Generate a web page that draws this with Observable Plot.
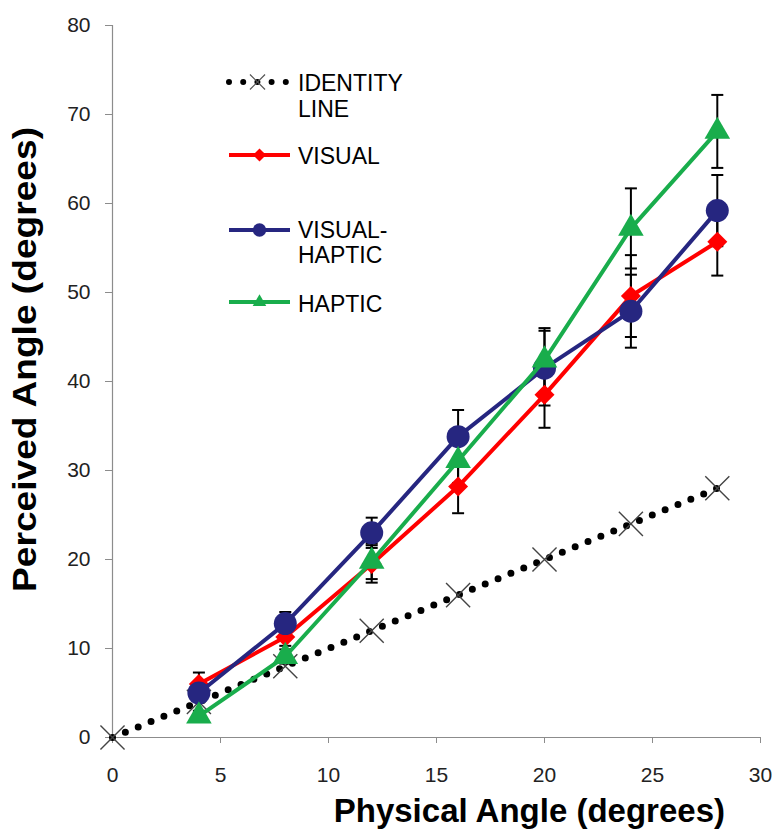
<!DOCTYPE html>
<html><head><meta charset="utf-8">
<script src="https://cdn.jsdelivr.net/npm/d3@7"></script>
<script src="https://cdn.jsdelivr.net/npm/@observablehq/plot@0.6"></script>
<style>
body{margin:0;background:#fff;font-family:"Liberation Sans",Arial,sans-serif}
#wrap{position:relative;width:773px;height:832px}
#legend{position:absolute;left:0;top:0;pointer-events:none}
</style>
</head><body><div id="wrap"></div>
<script>
// ---- data ----
const angles = [4, 8, 12, 16, 20, 24, 28];
const identityX = [0, 4, 8, 12, 16, 20, 24, 28];
const identityY = [0, 4, 8, 12, 16, 20, 24, 28];
const visual = [6.0, 11.3, 19.5, 28.2, 38.5, 49.6, 55.7];
const visualErr = [1.3, 1.0, 2.1, 3.0, 3.7, 4.6, 3.8];
const visualHaptic = [5.0, 12.8, 23.0, 33.8, 41.5, 47.9, 59.2];
const visualHapticErr = [0.8, 1.3, 1.7, 3.0, 4.2, 4.1, 4.0];
const haptic = [2.4, 9.1, 19.8, 31.1, 42.4, 57.2, 68.1];
const hapticErr = [0.6, 0.8, 2.0, 2.5, 3.6, 4.5, 4.1];
const xTicks = [0, 5, 10, 15, 20, 25, 30];
const yTicks = [0, 10, 20, 30, 40, 50, 60, 70, 80];
const seriesNames = ["VISUAL", "VISUAL-HAPTIC", "HAPTIC"];
const legendLabels = [["IDENTITY", "LINE"], ["VISUAL"], ["VISUAL-", "HAPTIC"], ["HAPTIC"]];
const xLabel = "Physical Angle (degrees)";
const yLabel = "Perceived Angle (degrees)";

// ---- styles ----
const colors = {"VISUAL": "#ff0000", "VISUAL-HAPTIC": "#262680", "HAPTIC": "#19ad4c"};
const symbols = {"VISUAL": "diamond2", "VISUAL-HAPTIC": "circle", "HAPTIC": "triangle"};
const radii = {"VISUAL": 9, "VISUAL-HAPTIC": 11.5, "HAPTIC": 9.5};

const values = {"VISUAL": visual, "VISUAL-HAPTIC": visualHaptic, "HAPTIC": haptic};
const errs = {"VISUAL": visualErr, "VISUAL-HAPTIC": visualHapticErr, "HAPTIC": hapticErr};

const identity = identityX.map((x, i) => ({x, y: identityY[i]}));
const rows = seriesNames.flatMap(s => angles.map((x, i) => ({
  series: s, x, y: values[s][i], lo: values[s][i] - errs[s][i], hi: values[s][i] + errs[s][i]
})));

const capSymbol = {draw(ctx, size) { const w = Math.sqrt(size / Math.PI); ctx.moveTo(-w, 0); ctx.lineTo(w, 0); }};

const font = "Liberation Sans, Arial, sans-serif";

const seriesMarks = seriesNames.flatMap(s => {
  const d = rows.filter(r => r.series === s);
  return [
    Plot.line(d, {x: "x", y: "y", stroke: colors[s], strokeWidth: 4, strokeLinejoin: "round"}),
    Plot.dot(d, {x: "x", y: "y", symbol: symbols[s], r: radii[s], fill: colors[s], stroke: "none"})
  ];
});

const chart = Plot.plot({
  width: 773, height: 832,
  marginLeft: 112, marginRight: 13, marginTop: 25, marginBottom: 95,
  x: {domain: [0, 30]},
  y: {domain: [0, 80]},
  style: {fontFamily: font, fontSize: "21px", background: "#fff", overflow: "visible"},
  marks: [
    Plot.ruleY([0], {stroke: "#8c8c8c", strokeWidth: 1.2}),
    Plot.ruleX([0], {stroke: "#8c8c8c", strokeWidth: 1.2}),
    Plot.axisX({ticks: xTicks, tickSize: 6, tickPadding: 24, label: null, stroke: "#8c8c8c", fill: "#222", fontSize: 21, tickFormat: d => String(d)}),
    Plot.axisY({ticks: yTicks, tickSize: 7, tickPadding: 15, label: null, stroke: "#8c8c8c", fill: "#222", fontSize: 21, tickFormat: d => String(d)}),
    // identity
    Plot.line(identity, {x: "x", y: "y", stroke: "#000", strokeWidth: 7, strokeDasharray: "0,13.9", strokeLinecap: "round"}),
    Plot.dot(identity, {x: "x", y: "y", symbol: "times", r: 11, stroke: "#444", strokeWidth: 1.4}),
    // error bars
    Plot.ruleX(rows, {x: "x", y1: "lo", y2: "hi", stroke: "#000", strokeWidth: 2}),
    Plot.dot(rows, {x: "x", y: "hi", symbol: capSymbol, r: 6, fill: "none", stroke: "#000", strokeWidth: 2}),
    Plot.dot(rows, {x: "x", y: "lo", symbol: capSymbol, r: 6, fill: "none", stroke: "#000", strokeWidth: 2}),
    ...seriesMarks
  ]
});

const wrap = document.getElementById("wrap");
wrap.appendChild(chart);

const svg = d3.select(chart);
svg.attr("font-size", 21);
svg.selectAll("g").filter(function() { return this.hasAttribute("font-size"); }).attr("font-size", 21);
svg.selectAll("text").each(function() {
  this.setAttribute("font-size", "21");
  this.style.setProperty("font-size", "21px", "important");
});

// axis titles
svg.append("text").text(xLabel)
  .attr("x", 725).attr("y", 822).attr("text-anchor", "end")
  .attr("font-family", font).attr("font-size", 33).attr("font-weight", "bold").attr("fill", "#000");
svg.append("text").text(yLabel)
  .attr("transform", "translate(36,359.5) rotate(-90)").attr("text-anchor", "middle")
  .attr("textLength", 465).attr("lengthAdjust", "spacingAndGlyphs")
  .attr("font-family", font).attr("font-size", 33).attr("font-weight", "bold").attr("fill", "#000");

// ---- legend overlay ----
const lg = d3.select(wrap).append("svg").attr("id", "legend").attr("width", 773).attr("height", 832);
const lx1 = 229, lx2 = 290, tx = 298;
const entries = [
  {key: "IDENTITY", ly: 82, base: [91, 117]},
  {key: "VISUAL", ly: 155, base: [164]},
  {key: "VISUAL-HAPTIC", ly: 230, base: [238, 263]},
  {key: "HAPTIC", ly: 302, base: [312]}
];
entries.forEach((e, i) => {
  if (e.key === "IDENTITY") {
    lg.append("line").attr("x1", lx1).attr("x2", lx2 - 3).attr("y1", e.ly).attr("y2", e.ly)
      .attr("stroke", "#000").attr("stroke-width", 6).attr("stroke-dasharray", "0,14.2").attr("stroke-linecap", "round");
    lg.append("path").attr("d", d3.symbol(d3.symbolTimes, 150)()).attr("transform", `translate(257.5,${e.ly})`)
      .attr("stroke", "#555").attr("stroke-width", 1.2).attr("fill", "none");
  } else {
    lg.append("line").attr("x1", lx1).attr("x2", lx2).attr("y1", e.ly).attr("y2", e.ly)
      .attr("stroke", colors[e.key]).attr("stroke-width", 4);
    const sym = {"VISUAL": d3.symbolDiamond2, "VISUAL-HAPTIC": d3.symbolCircle, "HAPTIC": d3.symbolTriangle}[e.key];
    const size = {"VISUAL": 110, "VISUAL-HAPTIC": 140, "HAPTIC": 80}[e.key];
    lg.append("path").attr("d", d3.symbol(sym, size)()).attr("transform", `translate(259.5,${e.ly})`)
      .attr("fill", colors[e.key]);
  }
  legendLabels[i].forEach((t, j) => {
    lg.append("text").attr("x", tx).attr("y", e.base[j]).text(t)
      .attr("font-family", font).attr("font-size", 23).attr("fill", "#000");
  });
});
</script>
</body></html>
